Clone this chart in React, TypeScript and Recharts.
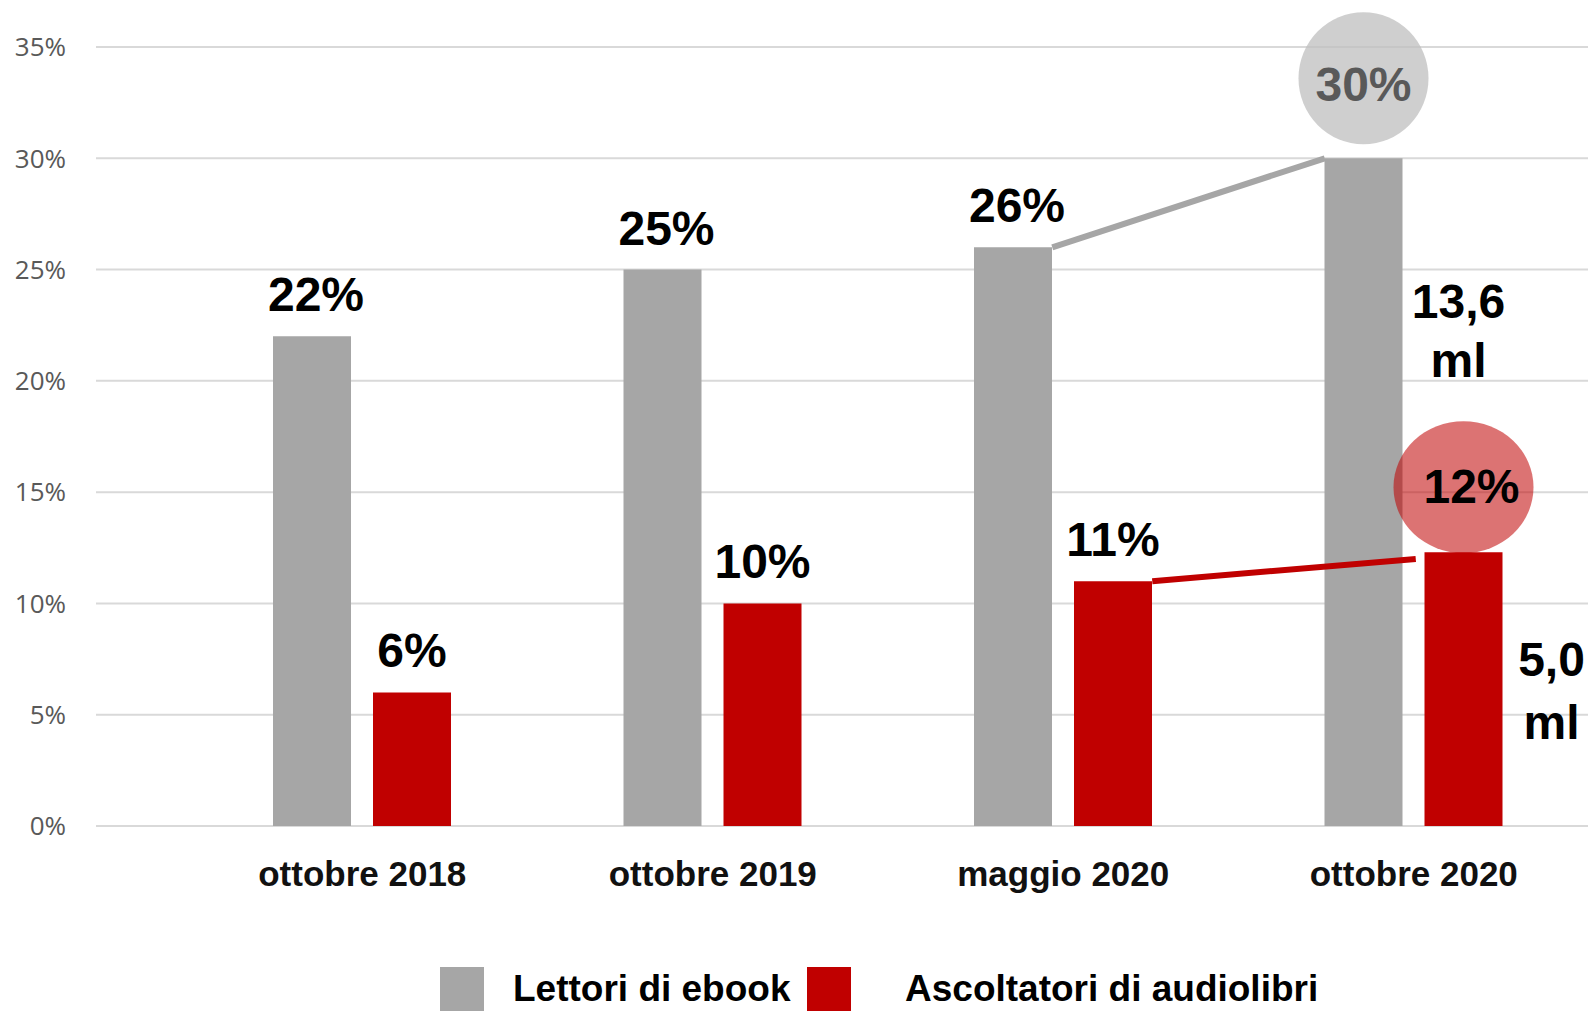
import {
  BarChart,
  Bar,
  XAxis,
  YAxis,
  CartesianGrid,
  LabelList,
  Legend,
  ReferenceLine,
} from "recharts";

const categories = ["ottobre 2018", "ottobre 2019", "maggio 2020", "ottobre 2020"];
const ebookValues = [22, 25, 26, 30];
const audioValues = [6, 10, 11, 12.3];
const ebookLabels = ["22%", "25%", "26%", "30%"];
const audioLabels = ["6%", "10%", "11%", "12%"];
const ebookTotal = ["13,6", "ml"];
const audioTotal = ["5,0", "ml"];
const yTicks = [0, 5, 10, 15, 20, 25, 30, 35];
const seriesNames = ["Lettori di ebook", "Ascoltatori di audiolibri"];

const GRAY = "#a6a6a6";
const RED = "#c00000";
const FONT = "'Liberation Sans', Arial, sans-serif";
const BAR = 78;
const GAP = 22;

const data = categories.map((name, i) => ({
  name,
  ebook: ebookValues[i],
  audio: audioValues[i],
}));

const box = (props: any) => {
  const vb = props.viewBox ?? {};
  return {
    x: Number(props.x ?? vb.x),
    y: Number(props.y ?? vb.y),
    width: Number(props.width ?? vb.width),
    height: Number(props.height ?? vb.height),
    index: Number(props.index),
  };
};

const bigText = {
  fontFamily: FONT,
  fontWeight: 700,
  fontSize: 48,
  textAnchor: "middle" as const,
};

const renderEbookLabel = (props: any) => {
  const { x, y, width, index } = box(props);
  const cx = x + width / 2;
  if (index === categories.length - 1) {
    return (
      <g>
        <ellipse cx={cx} cy={y - 80} rx={65} ry={66} fill="#bfbfbf" fillOpacity={0.75} />
        <text x={cx} y={y - 57} fill="#595959" {...bigText}>
          {ebookLabels[index]}
        </text>
        <text x={x + width + 56} y={y + 160} fill="#000" {...bigText}>
          {ebookTotal[0]}
        </text>
        <text x={x + width + 56} y={y + 219} fill="#000" {...bigText}>
          {ebookTotal[1]}
        </text>
      </g>
    );
  }
  return (
    <text x={cx + 4} y={y - 25} fill="#000" {...bigText}>
      {ebookLabels[index]}
    </text>
  );
};

const renderAudioLabel = (props: any) => {
  const { x, y, width, index } = box(props);
  const cx = x + width / 2;
  if (index === categories.length - 1) {
    return (
      <g>
        <ellipse cx={cx} cy={y - 65} rx={70} ry={66} fill={RED} fillOpacity={0.55} />
        <text x={cx + 8} y={y - 49} fill="#000" {...bigText}>
          {audioLabels[index]}
        </text>
        <text x={x + width + 49} y={y + 124} fill="#000" {...bigText}>
          {audioTotal[0]}
        </text>
        <text x={x + width + 49} y={y + 187} fill="#000" {...bigText}>
          {audioTotal[1]}
        </text>
      </g>
    );
  }
  return (
    <text x={cx} y={y - 25} fill="#000" {...bigText}>
      {audioLabels[index]}
    </text>
  );
};

const connector = (color: string, dx1: number, dx2: number, w: number) => (p: any) =>
  (
    <line
      x1={p.x1 + dx1}
      y1={p.y1}
      x2={p.x2 + dx2}
      y2={p.y2}
      stroke={color}
      strokeWidth={w}
    />
  );

const squareLeft = [440, 807];
const textLeft = [513, 905];

const renderLegend = (props: any) => {
  const items = [...(props.payload ?? [])].sort(
    (a: any, b: any) => seriesNames.indexOf(a.value) - seriesNames.indexOf(b.value)
  );
  return (
    <div style={{ position: "relative", height: 0, width: 1588 }}>
      {items.map((item: any, i: number) => (
        <div key={item.value}>
          <div
            style={{
              position: "absolute",
              left: squareLeft[i],
              top: 967,
              width: 44,
              height: 44,
              background: item.color,
            }}
          />
          <div
            style={{
              position: "absolute",
              left: textLeft[i],
              top: 967,
              height: 44,
              lineHeight: "44px",
              fontFamily: FONT,
              fontWeight: 700,
              fontSize: 37,
              color: "#000",
              whiteSpace: "nowrap",
            }}
          >
            {item.value}
          </div>
        </div>
      ))}
    </div>
  );
};

export default function App() {
  return (
    <div
      style={{
        position: "absolute",
        left: 0,
        top: 0,
        width: 1588,
        height: 1011,
        overflow: "hidden",
        background: "#fff",
      }}
    >
      <BarChart
        width={1589}
        height={1011}
        data={data}
        margin={{ top: 47, right: 0, bottom: 125, left: 0 }}
        barSize={BAR}
        barGap={GAP}
      >
        <CartesianGrid vertical={false} stroke="#d9d9d9" strokeWidth={2} />
        <XAxis
          dataKey="name"
          height={60}
          padding={{ left: 91, right: 0 }}
          axisLine={false}
          tickLine={false}
          tickSize={0}
          tickMargin={35}
          tick={{ fontSize: 35, fontWeight: 700, fill: "#111", fontFamily: FONT }}
          interval={0}
        />
        <YAxis
          width={96}
          domain={[0, 35]}
          ticks={yTicks}
          axisLine={false}
          tickLine={false}
          tickSize={0}
          tickMargin={30}
          tickFormatter={(v: number) => `${v}%`}
          tick={{ fontSize: 26, fill: "#595959", fontFamily: "'Open Sans', sans-serif" }}
        />
        <Legend
          verticalAlign="bottom"
          wrapperStyle={{ top: 0, left: 0, bottom: "auto", height: 0 }}
          content={renderLegend}
        />
        <Bar dataKey="ebook" name={seriesNames[0]} fill={GRAY} isAnimationActive={false}>
          <LabelList dataKey="ebook" content={renderEbookLabel} />
        </Bar>
        <Bar dataKey="audio" name={seriesNames[1]} fill={RED} isAnimationActive={false}>
          <LabelList dataKey="audio" content={renderAudioLabel} />
        </Bar>
        <ReferenceLine
          segment={[
            { x: categories[2], y: ebookValues[2] },
            { x: categories[3], y: ebookValues[3] },
          ]}
          shape={connector(GRAY, -GAP / 2, -GAP / 2 - BAR, 6)}
        />
        <ReferenceLine
          segment={[
            { x: categories[2], y: audioValues[2] },
            { x: categories[3], y: parseFloat(audioLabels[3]) },
          ]}
          shape={connector(RED, GAP / 2 + BAR, 2, 6)}
        />
      </BarChart>
    </div>
  );
}
